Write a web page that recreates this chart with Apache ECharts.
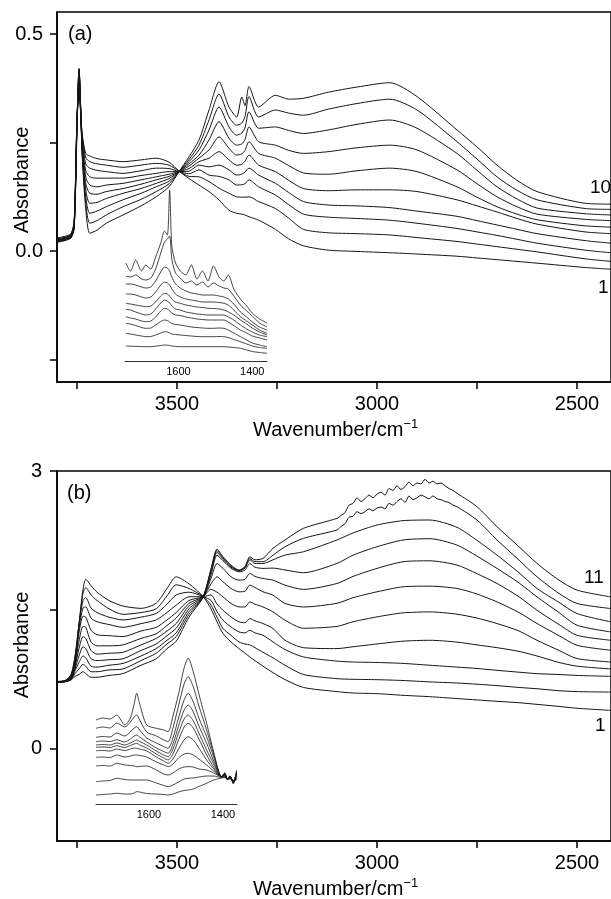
<!DOCTYPE html>
<html>
<head>
<meta charset="utf-8">
<script src="https://cdn.jsdelivr.net/npm/echarts@6/dist/echarts.min.js"></script>
<style>
  html, body { margin: 0; padding: 0; background: #fff; }
  #chart { width: 611px; height: 899px; }
</style>
</head>
<body>
<div id="chart"></div>
<script>
// ---- panel (a): wavenumbers and absorbance of spectra 1..10 ----
var wnA = [3800, 3780, 3765, 3757, 3750, 3745, 3737, 3728, 3718, 3700, 3677, 3635, 3590, 3552, 3520, 3495, 3470, 3445, 3420, 3395,
  3370, 3351, 3338, 3330, 3320, 3296, 3254, 3221, 3184, 3122, 3050, 2968, 2900, 2800, 2750, 2700, 2650, 2600, 2480, 2415];
var a1 = [0.030, 0.034, 0.040, 0.070, 0.300, 0.360, 0.270, 0.225, 0.219, 0.213, 0.210, 0.206, 0.210, 0.214, 0.205, 0.184, 0.167, 0.152, 0.137, 0.118,
  0.094, 0.087, 0.085, 0.083, 0.079, 0.071, 0.050, 0.028, 0.012, 0.002, -0.001, -0.004, -0.007, -0.012, -0.016, -0.020, -0.024, -0.028, -0.038, -0.042];
var a2 = [0.028, 0.032, 0.038, 0.068, 0.305, 0.370, 0.265, 0.215, 0.206, 0.201, 0.198, 0.193, 0.198, 0.202, 0.198, 0.184, 0.172, 0.171, 0.160, 0.145,
  0.133, 0.125, 0.124, 0.124, 0.125, 0.114, 0.098, 0.076, 0.050, 0.042, 0.040, 0.037, 0.031, 0.022, 0.016, 0.010, 0.004, -0.002, -0.018, -0.024];
var a3 = [0.027, 0.031, 0.037, 0.066, 0.310, 0.380, 0.260, 0.200, 0.191, 0.186, 0.183, 0.179, 0.185, 0.191, 0.190, 0.183, 0.178, 0.187, 0.175, 0.172,
  0.164, 0.152, 0.153, 0.155, 0.164, 0.148, 0.129, 0.107, 0.085, 0.078, 0.075, 0.071, 0.064, 0.052, 0.044, 0.036, 0.027, 0.018, 0.002, -0.004];
var a4 = [0.026, 0.030, 0.036, 0.064, 0.300, 0.390, 0.250, 0.185, 0.171, 0.168, 0.168, 0.168, 0.174, 0.179, 0.183, 0.183, 0.184, 0.198, 0.194, 0.198,
  0.187, 0.175, 0.177, 0.182, 0.191, 0.175, 0.156, 0.135, 0.114, 0.106, 0.104, 0.100, 0.092, 0.080, 0.070, 0.060, 0.050, 0.040, 0.024, 0.018];
var a5 = [0.025, 0.029, 0.035, 0.062, 0.295, 0.400, 0.245, 0.170, 0.152, 0.148, 0.152, 0.156, 0.164, 0.171, 0.177, 0.183, 0.190, 0.206, 0.214, 0.229,
  0.210, 0.198, 0.200, 0.207, 0.221, 0.198, 0.183, 0.163, 0.144, 0.139, 0.141, 0.141, 0.137, 0.118, 0.104, 0.090, 0.075, 0.062, 0.044, 0.040];
var a6 = [0.024, 0.028, 0.034, 0.060, 0.300, 0.410, 0.240, 0.155, 0.133, 0.131, 0.137, 0.144, 0.154, 0.164, 0.172, 0.183, 0.196, 0.214, 0.233, 0.263,
  0.237, 0.221, 0.224, 0.232, 0.252, 0.225, 0.214, 0.197, 0.180, 0.177, 0.185, 0.191, 0.183, 0.148, 0.124, 0.102, 0.085, 0.072, 0.058, 0.055];
var a7 = [0.023, 0.027, 0.033, 0.058, 0.290, 0.415, 0.235, 0.140, 0.110, 0.112, 0.121, 0.133, 0.144, 0.156, 0.167, 0.183, 0.201, 0.221, 0.256, 0.298,
  0.260, 0.244, 0.247, 0.257, 0.286, 0.252, 0.244, 0.232, 0.225, 0.229, 0.238, 0.244, 0.233, 0.187, 0.155, 0.125, 0.102, 0.085, 0.073, 0.070];
var a8 = [0.022, 0.026, 0.032, 0.056, 0.295, 0.420, 0.230, 0.125, 0.087, 0.092, 0.102, 0.118, 0.133, 0.148, 0.161, 0.183, 0.206, 0.233, 0.279, 0.332,
  0.286, 0.267, 0.272, 0.284, 0.321, 0.283, 0.286, 0.278, 0.271, 0.279, 0.292, 0.302, 0.283, 0.225, 0.186, 0.148, 0.120, 0.099, 0.086, 0.083];
var a9 = [0.021, 0.025, 0.031, 0.054, 0.285, 0.420, 0.225, 0.110, 0.064, 0.070, 0.083, 0.102, 0.119, 0.137, 0.155, 0.183, 0.211, 0.244, 0.302, 0.362,
  0.309, 0.290, 0.295, 0.310, 0.356, 0.309, 0.325, 0.318, 0.313, 0.327, 0.340, 0.350, 0.325, 0.252, 0.212, 0.171, 0.140, 0.118, 0.098, 0.096];
var a10 = [0.020, 0.024, 0.030, 0.052, 0.280, 0.420, 0.220, 0.095, 0.041, 0.048, 0.064, 0.083, 0.104, 0.125, 0.148, 0.183, 0.217, 0.256, 0.325, 0.390,
  0.332, 0.309, 0.355, 0.335, 0.379, 0.332, 0.359, 0.350, 0.352, 0.366, 0.378, 0.388, 0.356, 0.279, 0.240, 0.198, 0.163, 0.137, 0.110, 0.108];

// ---- inset (a): 1750-1350 cm-1 region, arbitrary units ----
var wnInsA = [1743, 1730, 1716, 1700, 1689, 1675, 1662, 1648, 1638, 1630, 1624, 1618, 1608, 1595, 1580, 1565, 1550, 1535, 1520, 1505,
  1490, 1477, 1465, 1450, 1432, 1415, 1400, 1380, 1360];
var ia1 = [0.15, 0.148, 0.146, 0.144, 0.143, 0.143, 0.148, 0.155, 0.16, 0.158, 0.155, 0.15, 0.146, 0.143, 0.143, 0.143, 0.143, 0.143, 0.143, 0.143,
  0.143, 0.143, 0.14, 0.135, 0.127, 0.11, 0.095, 0.085, 0.077];
var ia2 = [0.277, 0.27, 0.26, 0.25, 0.243, 0.245, 0.26, 0.28, 0.293, 0.29, 0.28, 0.27, 0.265, 0.26, 0.255, 0.25, 0.245, 0.243, 0.243, 0.243,
  0.245, 0.243, 0.235, 0.215, 0.193, 0.17, 0.15, 0.135, 0.127];
var ia3 = [0.377, 0.37, 0.355, 0.335, 0.327, 0.33, 0.36, 0.395, 0.41, 0.405, 0.39, 0.375, 0.365, 0.36, 0.35, 0.34, 0.335, 0.33, 0.327, 0.327,
  0.33, 0.327, 0.31, 0.28, 0.243, 0.21, 0.18, 0.16, 0.143];
var ia4 = [0.443, 0.43, 0.42, 0.40, 0.393, 0.40, 0.44, 0.50, 0.527, 0.52, 0.50, 0.48, 0.46, 0.455, 0.44, 0.43, 0.42, 0.415, 0.41, 0.41,
  0.41, 0.41, 0.39, 0.355, 0.31, 0.28, 0.25, 0.23, 0.21];
var ia5 = [0.517, 0.51, 0.49, 0.47, 0.46, 0.47, 0.52, 0.58, 0.61, 0.60, 0.58, 0.55, 0.52, 0.51, 0.49, 0.48, 0.47, 0.465, 0.46, 0.46,
  0.46, 0.46, 0.44, 0.41, 0.36, 0.32, 0.29, 0.26, 0.243];
var ia6 = [0.577, 0.57, 0.56, 0.55, 0.543, 0.55, 0.59, 0.65, 0.677, 0.67, 0.65, 0.62, 0.59, 0.577, 0.56, 0.55, 0.54, 0.535, 0.527, 0.525,
  0.52, 0.51, 0.49, 0.46, 0.41, 0.37, 0.33, 0.29, 0.26];
var ia7 = [0.67, 0.67, 0.66, 0.64, 0.63, 0.64, 0.69, 0.76, 0.79, 0.78, 0.76, 0.72, 0.67, 0.64, 0.62, 0.61, 0.60, 0.59, 0.59, 0.59,
  0.585, 0.577, 0.56, 0.51, 0.443, 0.40, 0.36, 0.31, 0.277];
var ia8 = [0.77, 0.77, 0.76, 0.74, 0.73, 0.74, 0.80, 0.89, 0.94, 0.93, 0.90, 0.84, 0.77, 0.73, 0.70, 0.68, 0.67, 0.66, 0.66, 0.66,
  0.65, 0.64, 0.62, 0.57, 0.49, 0.44, 0.39, 0.34, 0.31];
var ia9 = [0.85, 0.84, 0.86, 0.82, 0.81, 0.83, 0.92, 1.08, 1.19, 1.22, 1.25, 1.02, 0.88, 0.83, 0.78, 0.80, 0.76, 0.79, 0.74, 0.78,
  0.75, 0.73, 0.72, 0.65, 0.56, 0.50, 0.45, 0.38, 0.34];
var ia10 = [0.98, 0.90, 1.01, 0.90, 0.96, 0.92, 1.04, 1.18, 1.30, 1.26, 1.71, 1.15, 0.98, 0.90, 0.86, 0.96, 0.82, 0.90, 0.80, 0.95,
  0.84, 0.80, 0.86, 0.72, 0.62, 0.55, 0.48, 0.42, 0.38];

// ---- panel (b): wavenumbers and absorbance of spectra 1..11 ----
var wnB = [3800, 3780, 3765, 3755, 3745, 3735, 3728, 3715, 3700, 3670, 3635, 3590, 3552, 3525, 3502, 3470, 3435, 3415, 3400, 3385,
  3365, 3345, 3330, 3318, 3305, 3285, 3260, 3230, 3184, 3100, 3060, 3000, 2935, 2868, 2800, 2750, 2700, 2645, 2600, 2545, 2500, 2415];
var b1 = [0.725, 0.735, 0.80, 1.00, 1.35, 1.72, 1.83, 1.76, 1.69, 1.60, 1.54, 1.515, 1.57, 1.73, 1.856, 1.78, 1.645, 1.51, 1.37, 1.243,
  1.152, 1.080, 1.03, 0.99, 0.95, 0.89, 0.82, 0.745, 0.66, 0.615, 0.60, 0.593, 0.575, 0.56, 0.54, 0.525, 0.51, 0.495, 0.477, 0.455, 0.435, 0.412];
var b2 = [0.724, 0.733, 0.79, 0.98, 1.34, 1.68, 1.74, 1.66, 1.60, 1.51, 1.45, 1.47, 1.51, 1.65, 1.77, 1.73, 1.644, 1.55, 1.42, 1.297,
  1.224, 1.152, 1.13, 1.12, 1.09, 1.04, 0.98, 0.90, 0.80, 0.755, 0.748, 0.744, 0.735, 0.72, 0.708, 0.695, 0.68, 0.66, 0.646, 0.625, 0.615, 0.61];
var b3 = [0.723, 0.731, 0.78, 0.96, 1.33, 1.60, 1.63, 1.52, 1.47, 1.42, 1.39, 1.42, 1.46, 1.56, 1.66, 1.69, 1.643, 1.60, 1.48, 1.387,
  1.314, 1.260, 1.25, 1.278, 1.25, 1.224, 1.152, 1.07, 0.99, 0.945, 0.935, 0.93, 0.92, 0.90, 0.88, 0.865, 0.845, 0.825, 0.809, 0.80, 0.79, 0.78];
var b4 = [0.722, 0.729, 0.775, 0.94, 1.30, 1.52, 1.53, 1.41, 1.37, 1.34, 1.31, 1.35, 1.39, 1.47, 1.55, 1.64, 1.642, 1.66, 1.56, 1.495,
  1.423, 1.369, 1.36, 1.405, 1.38, 1.351, 1.297, 1.170, 1.09, 1.08, 1.10, 1.13, 1.16, 1.17, 1.15, 1.12, 1.09, 1.05, 1.00, 0.93, 0.89, 0.86];
var b5 = [0.721, 0.728, 0.77, 0.92, 1.25, 1.43, 1.42, 1.28, 1.23, 1.22, 1.21, 1.27, 1.31, 1.39, 1.47, 1.60, 1.641, 1.72, 1.69, 1.639,
  1.568, 1.531, 1.53, 1.585, 1.56, 1.53, 1.477, 1.387, 1.30, 1.32, 1.37, 1.423, 1.466, 1.477, 1.452, 1.41, 1.351, 1.27, 1.170, 1.06, 0.972, 0.935];
var b6 = [0.720, 0.727, 0.765, 0.90, 1.16, 1.32, 1.31, 1.15, 1.11, 1.11, 1.12, 1.19, 1.24, 1.33, 1.41, 1.57, 1.640, 1.78, 1.856, 1.802,
  1.730, 1.694, 1.70, 1.766, 1.74, 1.694, 1.658, 1.568, 1.53, 1.57, 1.63, 1.694, 1.748, 1.755, 1.730, 1.67, 1.585, 1.47, 1.351, 1.22, 1.116, 1.062];
var b7 = [0.719, 0.726, 0.76, 0.88, 1.08, 1.21, 1.19, 1.06, 1.02, 1.03, 1.04, 1.12, 1.19, 1.27, 1.35, 1.54, 1.639, 1.84, 2.00, 1.947,
  1.856, 1.82, 1.83, 1.893, 1.86, 1.838, 1.82, 1.766, 1.72, 1.784, 1.86, 1.947, 2.019, 2.029, 1.983, 1.89, 1.784, 1.64, 1.495, 1.34, 1.224, 1.170];
var b8 = [0.718, 0.725, 0.755, 0.86, 1.00, 1.10, 1.08, 0.97, 0.95, 0.96, 0.97, 1.06, 1.13, 1.22, 1.30, 1.51, 1.638, 1.88, 2.09, 2.03,
  1.95, 1.91, 1.93, 2.00, 1.96, 1.947, 1.95, 1.93, 1.90, 2.001, 2.09, 2.181, 2.254, 2.268, 2.199, 2.08, 1.947, 1.79, 1.639, 1.47, 1.333, 1.260];
var b9 = [0.717, 0.724, 0.75, 0.84, 0.93, 1.00, 0.98, 0.89, 0.88, 0.90, 0.92, 1.00, 1.08, 1.17, 1.25, 1.48, 1.637, 1.91, 2.12, 2.044,
  1.96, 1.92, 1.95, 2.04, 2.00, 2.00, 2.04, 2.091, 2.127, 2.254, 2.33, 2.416, 2.463, 2.470, 2.391, 2.25, 2.091, 1.90, 1.730, 1.58, 1.459, 1.369];
var b10 = [0.716, 0.722, 0.745, 0.81, 0.86, 0.91, 0.89, 0.83, 0.83, 0.85, 0.86, 0.95, 1.03, 1.13, 1.21, 1.45, 1.636, 1.93, 2.14, 2.06,
  1.97, 1.925, 1.96, 2.055, 2.02, 2.02, 2.09, 2.181, 2.272, 2.362, 2.524, 2.597, 2.687, 2.723, 2.614, 2.470, 2.254, 2.037, 1.856, 1.676, 1.568, 1.513];
var b11 = [0.715, 0.720, 0.74, 0.78, 0.80, 0.83, 0.81, 0.77, 0.77, 0.79, 0.81, 0.90, 0.97, 1.08, 1.16, 1.42, 1.635, 1.94, 2.155, 2.073,
  1.983, 1.928, 1.97, 2.073, 2.04, 2.055, 2.164, 2.254, 2.380, 2.488, 2.669, 2.741, 2.849, 2.885, 2.759, 2.614, 2.398, 2.181, 2.001, 1.820, 1.712, 1.639];

// noisy top of the broad band for spectra 10 and 11 in (b), read at 10 cm-1 steps
var wnNoiseB = [3090, 3080, 3070, 3060, 3050, 3040, 3030, 3020, 3010, 3000, 2990, 2980, 2970, 2960, 2950, 2940, 2930, 2920, 2910, 2900,
  2890, 2880, 2870, 2860, 2850, 2840, 2830, 2820, 2810];
var b10Noise = [2.40, 2.43, 2.50, 2.51, 2.56, 2.54, 2.56, 2.59, 2.57, 2.60, 2.61, 2.59, 2.65, 2.63, 2.67, 2.70, 2.66, 2.73, 2.69, 2.71,
  2.74, 2.72, 2.70, 2.73, 2.70, 2.69, 2.67, 2.66, 2.63];
var b11Noise = [2.52, 2.55, 2.63, 2.65, 2.71, 2.67, 2.70, 2.74, 2.71, 2.75, 2.77, 2.74, 2.81, 2.79, 2.84, 2.80, 2.83, 2.88, 2.84, 2.87,
  2.86, 2.91, 2.87, 2.89, 2.86, 2.87, 2.84, 2.81, 2.79];

// ---- inset (b) ----
var wnInsB = [1743, 1725, 1705, 1687, 1665, 1650, 1640, 1633, 1625, 1606, 1580, 1560, 1548, 1535, 1520, 1505, 1494, 1480, 1465, 1444,
  1425, 1404, 1395, 1388, 1381, 1372, 1363];
var ib1 = [0.09, 0.095, 0.10, 0.107, 0.10, 0.10, 0.11, 0.123, 0.12, 0.105, 0.10, 0.095, 0.09, 0.10, 0.12, 0.135, 0.14, 0.15, 0.175, 0.207,
  0.24, 0.26, 0.265, 0.245, 0.25, 0.23, 0.24];
var ib2 = [0.223, 0.23, 0.235, 0.257, 0.245, 0.24, 0.24, 0.24, 0.24, 0.24, 0.21, 0.185, 0.173, 0.19, 0.22, 0.25, 0.257, 0.26, 0.27, 0.28,
  0.28, 0.265, 0.27, 0.25, 0.26, 0.23, 0.25];
var ib3 = [0.38, 0.385, 0.38, 0.407, 0.39, 0.385, 0.38, 0.373, 0.375, 0.38, 0.34, 0.30, 0.29, 0.31, 0.35, 0.37, 0.373, 0.37, 0.35, 0.34,
  0.31, 0.273, 0.28, 0.25, 0.26, 0.23, 0.26];
var ib4 = [0.467, 0.47, 0.465, 0.49, 0.47, 0.48, 0.49, 0.49, 0.485, 0.47, 0.42, 0.39, 0.373, 0.40, 0.46, 0.50, 0.507, 0.49, 0.45, 0.39,
  0.33, 0.273, 0.28, 0.25, 0.27, 0.23, 0.27];
var ib5 = [0.533, 0.535, 0.53, 0.55, 0.535, 0.55, 0.56, 0.557, 0.55, 0.53, 0.47, 0.43, 0.407, 0.45, 0.55, 0.64, 0.673, 0.64, 0.56, 0.44,
  0.35, 0.273, 0.29, 0.25, 0.27, 0.23, 0.28];
var ib6 = [0.567, 0.57, 0.565, 0.583, 0.565, 0.585, 0.60, 0.607, 0.59, 0.56, 0.50, 0.46, 0.44, 0.50, 0.64, 0.77, 0.807, 0.76, 0.65, 0.49,
  0.37, 0.273, 0.29, 0.25, 0.27, 0.22, 0.29];
var ib7 = [0.59, 0.595, 0.59, 0.61, 0.59, 0.61, 0.63, 0.64, 0.625, 0.59, 0.53, 0.49, 0.473, 0.55, 0.71, 0.85, 0.89, 0.83, 0.71, 0.54,
  0.40, 0.273, 0.30, 0.25, 0.27, 0.22, 0.30];
var ib8 = [0.623, 0.63, 0.625, 0.643, 0.62, 0.65, 0.68, 0.69, 0.67, 0.62, 0.56, 0.525, 0.507, 0.60, 0.78, 0.94, 0.99, 0.92, 0.78, 0.607,
  0.43, 0.273, 0.30, 0.25, 0.28, 0.22, 0.31];
var ib9 = [0.667, 0.675, 0.67, 0.71, 0.68, 0.72, 0.76, 0.773, 0.74, 0.66, 0.61, 0.575, 0.557, 0.66, 0.86, 1.04, 1.107, 1.02, 0.86, 0.673,
  0.47, 0.273, 0.31, 0.25, 0.28, 0.21, 0.32];
var ib10 = [0.757, 0.77, 0.76, 0.81, 0.77, 0.82, 0.87, 0.89, 0.84, 0.72, 0.68, 0.64, 0.623, 0.76, 0.98, 1.20, 1.273, 1.17, 0.98, 0.74,
  0.50, 0.273, 0.31, 0.25, 0.28, 0.21, 0.33];
var ib11 = [0.84, 0.86, 0.85, 0.89, 0.79, 0.86, 1.0, 1.107, 1.0, 0.79, 0.757, 0.74, 0.723, 0.88, 1.10, 1.36, 1.46, 1.32, 1.10, 0.807,
  0.52, 0.273, 0.30, 0.24, 0.28, 0.20, 0.34];

// tick positions
var xTicks = [3750, 3500, 3250, 3000, 2750, 2500];
var xLabels = [3500, 3000, 2500];
var insTicks = [1600, 1400];
var yTicksA = [-0.25, 0, 0.25, 0.5];
var yLabelsA = [0, 0.5];
var yTicksB = [0, 1.5, 3];
var yLabelsB = [0, 3];

var FONT = '"Liberation Sans", Arial, sans-serif';
var INK = '#161616';

function pairs(wn, vals) {
  return wn.map(function (w, i) { return [w, vals[i]]; });
}

// replace the 3100-2800 stretch of a curve with its noisy readings
function withNoise(wn, vals, nwn, nvals) {
  var hi = nwn[0], lo = nwn[nwn.length - 1];
  var out = pairs(wn, vals).filter(function (p) { return p[0] > hi || p[0] < lo; });
  out = out.concat(pairs(nwn, nvals));
  out.sort(function (p, q) { return q[0] - p[0]; });
  return out;
}

function lineSeries(xi, data, width) {
  return {
    type: 'line',
    xAxisIndex: xi,
    yAxisIndex: xi,
    data: data,
    symbol: 'none',
    smooth: 0.25,
    silent: true,
    animation: false,
    lineStyle: { color: INK, width: width }
  };
}

function plain(v) { return String(v); }

function mainX(grid) {
  return {
    gridIndex: grid, type: 'value', min: 2415, max: 3800, inverse: true,
    axisLine: { show: true, onZero: false, lineStyle: { color: '#000', width: 1.5 } },
    axisTick: { show: true, length: 7, customValues: xTicks, lineStyle: { color: '#000', width: 1.5 } },
    axisLabel: { customValues: xLabels, formatter: plain, fontSize: 20, fontFamily: FONT, color: '#000', margin: 12 },
    splitLine: { show: false }
  };
}

function insetX(grid, lo, hi) {
  return {
    gridIndex: grid, type: 'value', min: lo, max: hi, inverse: true,
    axisLine: { show: true, onZero: false, lineStyle: { color: '#333', width: 1 } },
    axisTick: { show: false },
    axisLabel: { customValues: insTicks, formatter: plain, fontSize: 11, fontFamily: FONT, color: '#000', margin: 5 },
    splitLine: { show: false }
  };
}

var chart = echarts.init(document.getElementById('chart'), null, { renderer: 'canvas' });

var series = [];
[a1, a2, a3, a4, a5, a6, a7, a8, a9, a10].forEach(function (s) { series.push(lineSeries(0, pairs(wnA, s), 1)); });
[ia1, ia2, ia3, ia4, ia5, ia6, ia7, ia8, ia9, ia10].forEach(function (s) { series.push(lineSeries(1, pairs(wnInsA, s), 0.8)); });
[b1, b2, b3, b4, b5, b6, b7, b8, b9].forEach(function (s) { series.push(lineSeries(2, pairs(wnB, s), 1)); });
series.push(lineSeries(2, withNoise(wnB, b10, wnNoiseB, b10Noise), 1));
series.push(lineSeries(2, withNoise(wnB, b11, wnNoiseB, b11Noise), 1));
[ib1, ib2, ib3, ib4, ib5, ib6, ib7, ib8, ib9, ib10, ib11].forEach(function (s) { series.push(lineSeries(3, pairs(wnInsB, s), 0.8)); });

function txt(x, y, text, size, align) {
  return {
    type: 'text', x: x, y: y, silent: true,
    style: { text: text, font: size + 'px ' + FONT, fill: '#000', textAlign: align || 'left', textVerticalAlign: 'middle' }
  };
}

function axisName(x, y) {
  return {
    type: 'text', x: x, y: y, silent: true,
    style: {
      text: '{m|Wavenumber/cm}{s|\u22121}',
      textAlign: 'left', textVerticalAlign: 'middle',
      rich: {
        m: { font: '20px ' + FONT, fill: '#000', lineHeight: 24 },
        s: { font: '13px ' + FONT, fill: '#000', verticalAlign: 'top', lineHeight: 24 }
      }
    }
  };
}

function yName(x, y) {
  return {
    type: 'text', x: x, y: y, rotation: Math.PI / 2, silent: true,
    style: { text: 'Absorbance', font: '20px ' + FONT, fill: '#000', textAlign: 'center', textVerticalAlign: 'middle' }
  };
}

var option = {
  backgroundColor: '#fff',
  animation: false,
  grid: [
    { left: 57, top: 12, width: 557, height: 370, show: true, borderColor: '#000', borderWidth: 1.5, containLabel: false },
    { left: 125, top: 186, width: 142, height: 175 },
    { left: 57, top: 471, width: 557, height: 370, show: true, borderColor: '#000', borderWidth: 1.5, containLabel: false },
    { left: 96, top: 654, width: 141, height: 150 }
  ],
  xAxis: [mainX(0), insetX(1, 1360, 1745), mainX(2), insetX(3, 1362, 1743)],
  yAxis: [
    {
      gridIndex: 0, type: 'value', min: -0.302, max: 0.551,
      axisLine: { show: true, onZero: false, lineStyle: { color: '#000', width: 1.5 } },
      axisTick: { show: true, length: 7, customValues: yTicksA, lineStyle: { color: '#000', width: 1.5 } },
      axisLabel: { customValues: yLabelsA, fontSize: 20, fontFamily: FONT, color: '#000', margin: 14,
        formatter: function (v) { return v.toFixed(1); } },
      splitLine: { show: false }
    },
    { gridIndex: 1, type: 'value', min: 0, max: 1.75, show: false, splitLine: { show: false } },
    {
      gridIndex: 2, type: 'value', min: -1, max: 3,
      axisLine: { show: true, onZero: false, lineStyle: { color: '#000', width: 1.5 } },
      axisTick: { show: true, length: 7, customValues: yTicksB, lineStyle: { color: '#000', width: 1.5 } },
      axisLabel: { customValues: yLabelsB, fontSize: 20, fontFamily: FONT, color: '#000', margin: 15, formatter: plain },
      splitLine: { show: false }
    },
    { gridIndex: 3, type: 'value', min: 0, max: 1.5, show: false, splitLine: { show: false } }
  ],
  series: series,
  graphic: [
    txt(68, 34, '(a)', 20),
    txt(67, 493, '(b)', 20),
    txt(590, 188, '10', 19),
    txt(598, 288, '1', 19),
    txt(584, 578, '11', 19),
    txt(595, 726, '1', 19),
    yName(22, 180),
    yName(22, 645),
    axisName(253, 430),
    axisName(253, 889)
  ]
};

chart.setOption(option);
</script>
</body>
</html>
